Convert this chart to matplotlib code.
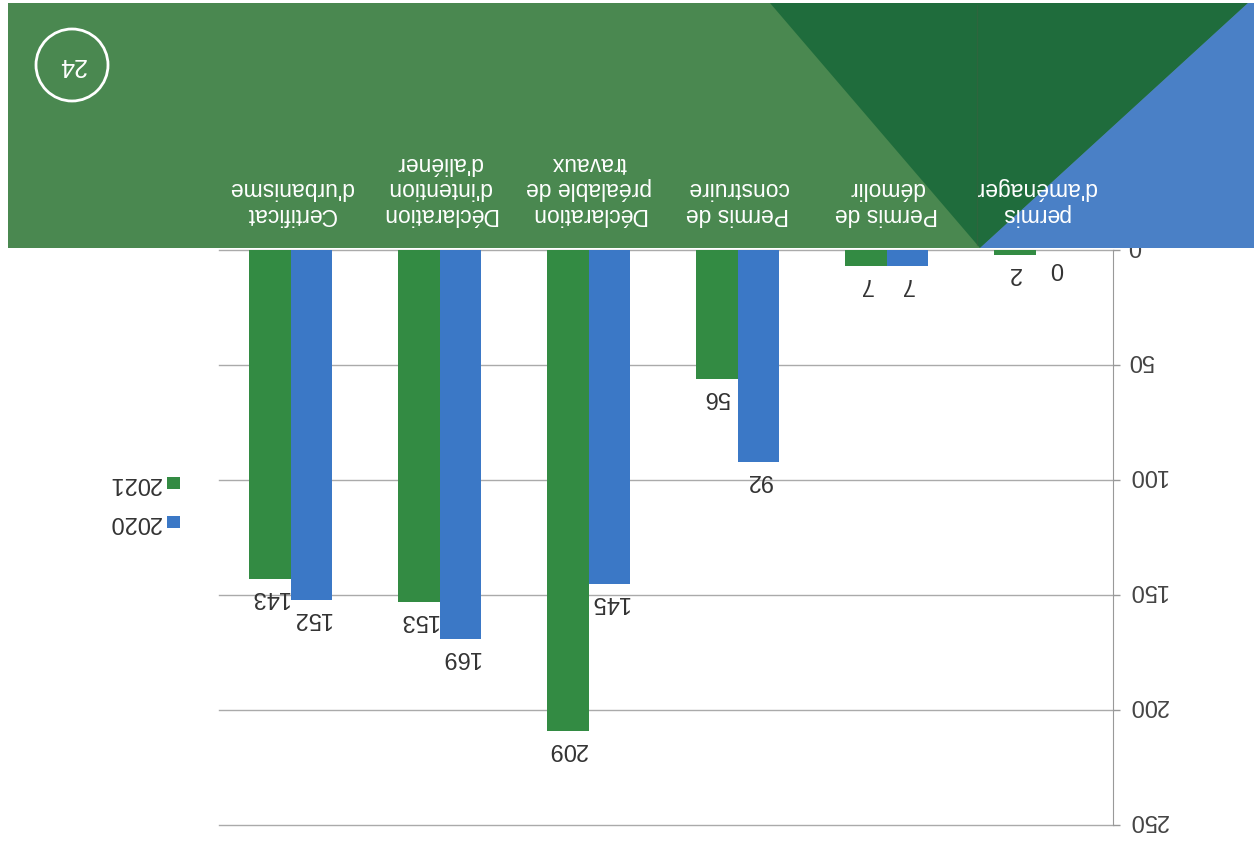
import matplotlib
matplotlib.use('Agg')
import matplotlib.pyplot as plt
import matplotlib.transforms as mtransforms
from matplotlib.patches import Polygon, Rectangle, Circle
import numpy as np

# ---- data ----
categories = ["permis\nd'aménager", "Permis de\ndémolir", "Permis de\nconstruire",
              "Déclaration\npréalable de\ntravaux", "Déclaration\nd'intention\nd'aliéner",
              "Certificat\nd'urbanisme"]
values_2020 = [0, 7, 92, 145, 169, 152]
values_2021 = [2, 7, 56, 209, 153, 143]
series_labels = ["2020", "2021"]
y_ticks = [0, 50, 100, 150, 200, 250]
page_number = "24"

BLUE = '#3b78c6'
GREEN = '#338b43'
BANNER = '#4a8850'
DARK = '#1f6c3c'
TRI_BLUE = '#4a80c6'

W, H = 1254, 841
plt.rcParams['font.family'] = ['Liberation Sans', 'DejaVu Sans']
fig = plt.figure(figsize=(W / 100, H / 100), dpi=100)
fig.patch.set_facecolor('white')

def px(x, y):
    return (x / 100.0, (H - y) / 100.0)

inch = fig.dpi_scale_trans

ax = fig.add_axes([219 / W, 1 - 825 / H, (1113 - 219) / W, (825 - 250) / H])
x = np.arange(len(categories))
w = 0.28
bars20 = ax.bar(x - w / 2, values_2020, w, color=BLUE, zorder=3)
bars21 = ax.bar(x + w / 2, values_2021, w, color=GREEN, zorder=3)
ax.set_xlim(5.48, -0.52)
ax.set_ylim(250, 0)

for bars, vals in ((bars20, values_2020), (bars21, values_2021)):
    for b, v in zip(bars, vals):
        ax.annotate(str(v), xy=(b.get_x() + b.get_width() / 2, v), xytext=(0, -13),
                    textcoords='offset points', rotation=180, ha='center', va='center',
                    fontsize=17, color='#333333', zorder=4)

ax.set_xticks([])
ax.yaxis.tick_right()
ax.set_yticks(y_ticks)
ax.tick_params(axis='y', labelrotation=180, length=5, color='#999999', width=1,
               labelsize=17, labelcolor='#444444', pad=6)
shift = mtransforms.ScaledTranslation(0, 5 / 100, inch)
for t in ax.get_yticklabels():
    t.set_va('center')
    t.set_transform(t.get_transform() + shift)
for s in ('left', 'top', 'bottom'):
    ax.spines[s].set_visible(False)
ax.spines['right'].set_color('#999999')
ax.yaxis.grid(True, color='#aaaaaa', lw=1)
for gl in ax.get_ygridlines():
    gl.set_clip_on(False)
ax.set_axisbelow(True)

# ---- banner ----
fig.add_artist(Rectangle(px(8, 248), (W - 8) / 100, (248 - 3) / 100, transform=inch,
                         facecolor=BANNER, edgecolor='none', zorder=5))
fig.add_artist(Polygon([px(770, 3), px(1248, 3), px(980, 248)], closed=True, transform=inch,
                       facecolor=DARK, edgecolor='none', zorder=5.1))
fig.add_artist(Polygon([px(1248, 3), px(W, 3), px(W, 248), px(980, 248)], closed=True,
                       transform=inch, facecolor=TRI_BLUE, edgecolor='none', zorder=5.1))
fig.add_artist(plt.Line2D([977 / 100, 977 / 100], [(H - 5) / 100, (H - 245) / 100],
                          transform=inch, color='#3d5f3f', lw=1, alpha=0.5, zorder=5.2))

trans = mtransforms.blended_transform_factory(ax.transData, fig.transFigure)
for i, lab in enumerate(categories):
    fig.text(i, 1 - 226 / H, lab, transform=trans, rotation=180, ha='center', va='bottom',
             multialignment='center', color='white', fontsize=16.5, linespacing=1.15, zorder=6)

# page number
fig.add_artist(Circle(px(72, 65), 0.36, transform=inch, facecolor='none',
                      edgecolor='white', lw=2, zorder=6))
fig.text(*px(72, 65), page_number, transform=inch, rotation=180, ha='center', va='center',
         color='white', fontsize=18, zorder=7)

# ---- legend ----
for lab, col, yc in ((series_labels[0], BLUE, 522), (series_labels[1], GREEN, 483)):
    fig.add_artist(Rectangle(px(167, yc + 6), 0.13, 0.12, transform=inch,
                             facecolor=col, edgecolor='none', zorder=6))
    fig.text(*px(161, yc), lab, transform=inch, rotation=180, ha='right', va='center',
             color='#333333', fontsize=17, zorder=6)

fig.savefig('out.png', dpi=100)
